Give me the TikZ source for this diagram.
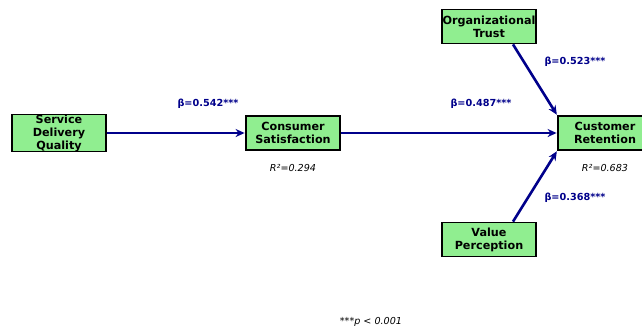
\documentclass[tikz,border=0pt]{standalone}
\usepackage{fontspec}
\setmainfont{DejaVu Sans}
\usetikzlibrary{arrows.meta}
\definecolor{boxgreen}{RGB}{144,238,144}
\definecolor{pathblue}{RGB}{0,0,139}
\tikzset{
  construct/.style={draw=black, line width=1.8pt, fill=boxgreen, minimum width=94pt, minimum height=34pt,
    inner sep=0pt, align=center, font=\fontsize{11.2}{13}\selectfont\bfseries},
  path arrow/.style={draw=pathblue, line width=2.6pt, -{Stealth[length=9pt,width=8pt]}, shorten >=0.5pt},
  coef/.style={text=pathblue, font=\fontsize{9.7}{11}\selectfont\bfseries},
  rsq/.style={font=\fontsize{9.6}{11}\selectfont\itshape},
}
\begin{document}
\begin{tikzpicture}[x=1pt, y=-1pt]
\useasboundingbox (0,0) rectangle (642,330);
\fill[white] (0,0) rectangle (642,330);

\node[construct] (sdq) at (59,133) {Service\\Delivery\\Quality};
\node[construct] (cs) at (293,133) {Consumer\\Satisfaction};
\node[construct] (ot) at (489,26.5) {Organizational\\Trust};
\node[construct] (cr) at (605,133) {Customer\\Retention};
\node[construct] (vp) at (489,239.5) {Value\\Perception};

\draw[path arrow] (sdq.east) -- (cs.west);
\draw[path arrow] (cs.east) -- (cr.west);
\draw[path arrow] ([xshift=24pt]ot.south) -- (cr.north west);
\draw[path arrow] ([xshift=24pt]vp.north) -- (cr.south west);

\node[coef] (b1) at (208,104) {β=0.542***};
\node[coef] (b2) at (481,104) {β=0.487***};
\node[coef] (b3) at (575,62) {β=0.523***};
\node[coef] (b4) at (575,198) {β=0.368***};

\node[rsq] (r1) at (293,168) {R²=0.294};
\node[rsq] (r2) at (605,168) {R²=0.683};

\node[rsq] (note) at (371,322) {***p < 0.001};
\end{tikzpicture}
\end{document}
